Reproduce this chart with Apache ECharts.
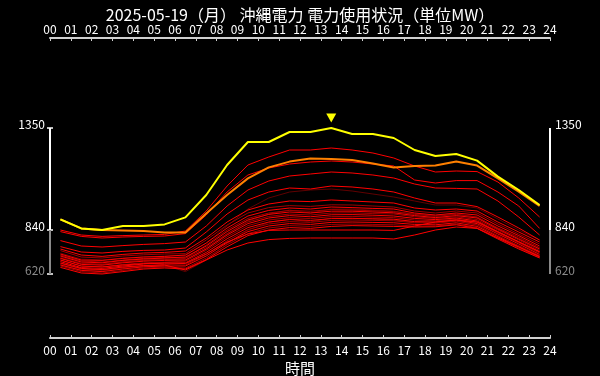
<!DOCTYPE html>
<html>
<head>
<meta charset="utf-8">
<script src="https://cdn.jsdelivr.net/npm/echarts@6/dist/echarts.min.js"></script>
<style>
  html, body { margin: 0; padding: 0; background: #000; }
  #chart { width: 600px; height: 376px; }
</style>
</head>
<body>
<div id="chart"></div>
<script>
const hours = [0.5, 1.5, 2.5, 3.5, 4.5, 5.5, 6.5, 7.5, 8.5, 9.5, 10.5, 11.5,
  12.5, 13.5, 14.5, 15.5, 16.5, 17.5, 18.5, 19.5, 20.5, 21.5, 22.5, 23.5];
const yTicks = [620, 840, 1350];

const today = [893, 848, 840, 860, 860, 868, 903, 1015, 1165, 1280, 1280, 1330,
  1330, 1350, 1320, 1320, 1300, 1240, 1210, 1220, 1187, 1107, 1040, 965];
const todayActual = [893, 848, 840, 838, 835, 828, 827, 923, 1015, 1098, 1153, 1182,
  1198, 1195, 1190, 1173, 1153, 1160, 1162, 1182, 1162, 1098, 1032, 960];

// past days
const dayA = [840, 815, 808, 812, 815, 818, 835, 935, 1060, 1165, 1205, 1240, 1240, 1250, 1240, 1225, 1200, 1160, 1130, 1135, 1132, 1080, 1000, 905];
const dayB = [832, 808, 800, 805, 808, 810, 822, 915, 1030, 1115, 1150, 1170, 1180, 1185, 1180, 1170, 1160, 1090, 1075, 1087, 1087, 1030, 960, 848];
const dayC = [787, 760, 755, 762, 768, 772, 780, 860, 960, 1040, 1085, 1110, 1120, 1130, 1125, 1115, 1100, 1070, 1050, 1048, 1045, 985, 905, 815];
const dayD = [757, 730, 725, 733, 738, 740, 750, 830, 920, 990, 1030, 1050, 1045, 1060, 1055, 1045, 1030, 1000, 975, 975, 957, 905, 850, 790];
const dayE = [745, 715, 708, 718, 725, 728, 735, 800, 880, 940, 970, 985, 982, 990, 985, 980, 975, 950, 940, 945, 935, 880, 830, 780];
const dayF = [737, 705, 700, 710, 716, 720, 722, 790, 865, 925, 952, 962, 958, 966, 965, 960, 955, 935, 925, 935, 925, 870, 820, 770];
const dayG = [720, 690, 688, 698, 705, 708, 715, 775, 850, 910, 938, 950, 945, 955, 952, 948, 945, 925, 915, 925, 915, 860, 812, 760];
const dayH = [715, 685, 680, 690, 698, 702, 700, 765, 840, 898, 925, 938, 934, 942, 940, 936, 932, 918, 908, 918, 905, 850, 805, 752];
const dayI = [710, 680, 676, 688, 695, 700, 705, 760, 832, 890, 918, 930, 925, 934, 934, 930, 926, 912, 902, 912, 900, 845, 795, 745];
const dayJ = [700, 672, 668, 680, 688, 692, 698, 752, 822, 880, 908, 920, 915, 925, 926, 922, 920, 906, 898, 906, 892, 840, 790, 738];
const dayK = [698, 668, 664, 676, 684, 688, 690, 745, 815, 872, 900, 912, 906, 916, 917, 914, 910, 898, 892, 900, 885, 832, 782, 732];
const dayL = [690, 660, 656, 668, 676, 680, 684, 738, 806, 862, 890, 902, 897, 907, 908, 905, 902, 890, 886, 895, 878, 826, 776, 725];
const dayM = [682, 652, 648, 660, 670, 675, 676, 728, 796, 852, 880, 892, 888, 897, 898, 896, 894, 882, 880, 890, 872, 820, 770, 718];
const dayN = [673, 645, 640, 652, 662, 668, 665, 718, 786, 842, 870, 882, 878, 888, 890, 888, 886, 876, 874, 884, 865, 812, 762, 712];
const dayO = [665, 638, 632, 645, 656, 660, 660, 710, 776, 832, 860, 872, 868, 878, 880, 878, 876, 868, 866, 876, 858, 806, 756, 706];
const dayP = [660, 632, 625, 638, 650, 655, 650, 700, 766, 822, 850, 862, 858, 868, 870, 868, 866, 860, 860, 870, 852, 800, 750, 702];
const dayQ = [653, 625, 620, 632, 645, 650, 645, 692, 756, 812, 840, 852, 848, 858, 862, 860, 858, 855, 856, 866, 848, 795, 745, 700];
const dayR = [690, 660, 655, 665, 672, 675, 672, 720, 780, 820, 838, 840, 840, 840, 840, 840, 838, 860, 880, 890, 880, 830, 780, 730];
const dayS = [675, 648, 642, 655, 662, 665, 640, 690, 740, 775, 792, 798, 800, 800, 800, 800, 795, 815, 840, 855, 848, 800, 755, 708];
const dayT = [705, 675, 670, 682, 690, 695, 690, 745, 820, 885, 920, 940, 925, 945, 945, 940, 935, 920, 912, 920, 905, 850, 800, 748];
const dayU = [668, 640, 636, 648, 660, 664, 632, 690, 770, 840, 878, 895, 880, 900, 900, 895, 890, 878, 875, 885, 866, 810, 760, 710];
const dayV = [725, 695, 690, 700, 706, 710, 712, 775, 860, 945, 1000, 1030, 1040, 1045, 1035, 1020, 1005, 985, 965, 965, 950, 895, 840, 790];

const brightDays = [dayA, dayB, dayC, dayD, dayE, dayG, dayI, dayK, dayM, dayO, dayQ, dayR, dayS];
const dimDays = [dayF, dayH, dayJ, dayL, dayN, dayP];
const darkDays = [dayT, dayU, dayV];

const pair = vals => vals.map((v, i) => [hours[i], v]);
const pad = v => (v < 10 ? '0' + v : '' + v);

const series = [];
const addDays = (days, color) => days.forEach(d => {
  series.push({ type: 'line', data: pair(d), symbol: 'none', silent: true,
    lineStyle: { color: color, width: 1 } });
});
addDays(darkDays, '#600000');
addDays(dimDays, '#a00000');
addDays(brightDays, '#ff0000');

series.push({ type: 'line', data: pair(todayActual), symbol: 'none', silent: true,
  lineStyle: { color: '#ff8000', width: 2 } });
series.push({ type: 'line', data: pair(today), symbol: 'none', silent: true,
  lineStyle: { color: '#ffff00', width: 2 },
  markPoint: {
    symbol: 'triangle', symbolRotate: 180, symbolSize: [10, 9], symbolOffset: [0, -10],
    label: { show: false }, itemStyle: { color: '#ffff00' },
    data: [{ type: 'max' }]
  } });

// axis segments 620-840 (gray) and 840-1350 (white) on both sides
[0, 24].forEach(x => {
  series.push({ type: 'line', data: [[x, yTicks[0]], [x, yTicks[1]]], symbol: 'none', silent: true,
    clip: false, lineStyle: { color: '#8a8a8a', width: 2 } });
  series.push({ type: 'line', data: [[x, yTicks[1]], [x, yTicks[2]]], symbol: 'none', silent: true,
    clip: false, lineStyle: { color: '#ffffff', width: 2 } });
});

const font = '"Noto Sans CJK JP", "Noto Sans", sans-serif';
const yAxisBase = {
  type: 'value', min: 300, max: 1800,
  axisLine: { show: false }, splitLine: { show: false },
  axisTick: { show: true, customValues: yTicks, length: 3, lineStyle: { color: '#fff', width: 1.5 } },
  axisLabel: {
    customValues: yTicks, fontSize: 12, fontFamily: font, margin: 5,
    verticalAlign: 'bottom', lineHeight: 8,
    formatter: v => String(v),
    color: v => (Number(v) === yTicks[0] ? '#8a8a8a' : '#ffffff')
  }
};
const xAxisBase = {
  type: 'value', min: 0, max: 24, interval: 1,
  splitLine: { show: false },
  axisLine: { lineStyle: { color: '#d0d0d0', width: 2 } },
  axisTick: { inside: true, length: 3, lineStyle: { color: '#d0d0d0' } },
  axisLabel: { color: '#ffffff', fontSize: 12, fontFamily: font, formatter: v => pad(v) }
};

const chart = echarts.init(document.getElementById('chart'));
chart.setOption({
  backgroundColor: '#000',
  animation: false,
  title: {
    text: '2025-05-19（月） 沖縄電力 電力使用状況（単位MW）',
    left: 'center', top: 2,
    textStyle: { color: '#ffffff', fontSize: 16, fontWeight: 'normal', fontFamily: font }
  },
  grid: { left: 50, right: 50, top: 38, bottom: 38, containLabel: false, outerBoundsMode: 'none' },
  xAxis: [
    Object.assign({}, xAxisBase, { position: 'bottom', name: '時間', nameLocation: 'middle', nameGap: 20,
      nameTextStyle: { color: '#ffffff', fontSize: 15, fontFamily: font },
      axisLabel: Object.assign({}, xAxisBase.axisLabel, { margin: 6 }) }),
    Object.assign({}, xAxisBase, { position: 'top',
      axisLabel: Object.assign({}, xAxisBase.axisLabel, { margin: 3 }) })
  ],
  yAxis: [
    Object.assign({}, yAxisBase, { position: 'left' }),
    Object.assign({}, yAxisBase, { position: 'right' })
  ],
  series: series
});
</script>
</body>
</html>
